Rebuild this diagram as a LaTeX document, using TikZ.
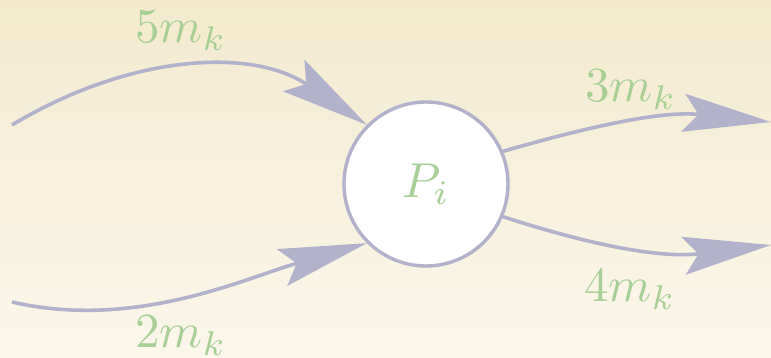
\documentclass[tikz,border=0pt]{standalone}
\usetikzlibrary{arrows.meta}
\definecolor{bgtop}{RGB}{243,234,206}
\definecolor{bgbot}{RGB}{251,247,234}
\definecolor{edgecol}{RGB}{178,178,204}
\definecolor{labcol}{RGB}{168,208,150}
\newcommand{\bigtxt}[1]{\scalebox{4.9}{#1}}
\tikzset{
  flow/.style={draw=edgecol, line width=3.6pt, -{Stealth[length=88pt, width=38pt, inset=15pt]}},
  lab/.style={text=labcol, inner sep=0pt, anchor=base west},
  place/.style={circle, draw=edgecol, line width=3.4pt, fill=white, minimum size=164pt, inner sep=0pt, text=labcol}
}
\begin{document}
\begin{tikzpicture}[x=1pt, y=1pt]
\useasboundingbox (0,0) rectangle (771,358);
\shade[top color=bgtop, bottom color=bgbot] (0,0) rectangle (771,358);
\node[place] (P) at (426,174) {\bigtxt{$P_i$}};
\coordinate (s1) at (12,233);
\coordinate (s2) at (12,56);
\coordinate (e3) at (771,236);
\coordinate (e4) at (771,113);
\draw[flow] (s1) to[out=31, in=146] (P.135);
\draw[flow] (s2) to[out=-13, in=196, looseness=0.9] (P.225);
\draw[flow] (P.23) to[out=16, in=174] (e3);
\draw[flow] (P.-23) to[out=-18, in=187] (e4);
\node[lab] (l5) at (135,315) {\bigtxt{$5m_k$}};
\node[lab] (l2) at (135,10) {\bigtxt{$2m_k$}};
\node[lab] (l3) at (585,256) {\bigtxt{$3m_k$}};
\node[lab] (l4) at (584,56) {\bigtxt{$4m_k$}};
\end{tikzpicture}
\end{document}
